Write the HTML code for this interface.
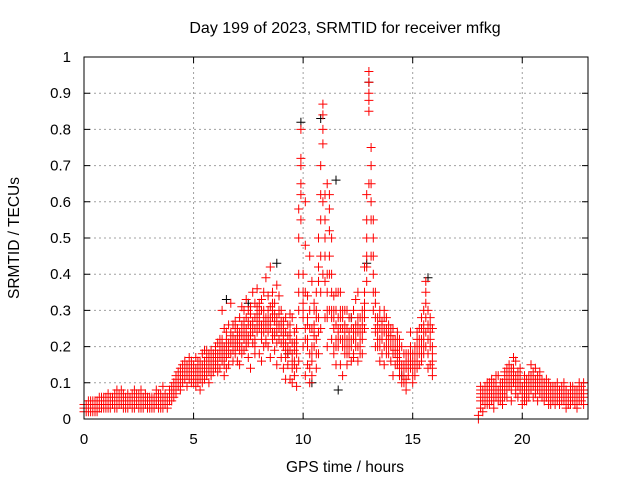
<!DOCTYPE html>
<html><head><meta charset="utf-8"><style>
html,body{margin:0;padding:0;background:#fff;}
svg{display:block;font-family:"Liberation Sans",sans-serif;}
</style></head><body>
<svg id="chart" width="640" height="480" xmlns="http://www.w3.org/2000/svg">
<rect width="640" height="480" fill="#fff"/>
<text x="345" y="33" font-size="16" text-anchor="middle">Day 199 of 2023, SRMTID for receiver mfkg</text>
<text x="345" y="472" font-size="15.5" text-anchor="middle">GPS time / hours</text>
<text transform="translate(19,238) rotate(-90)" font-size="15.5" text-anchor="middle">SRMTID / TECUs</text>
<g id="grid"></g>
<g id="ticks"></g>
<g id="black"></g>
<g id="red"></g>
<rect x="84" y="57" width="504" height="362" fill="none" stroke="#000" stroke-width="1"/>
</svg>
<script>
const xTicks=[0,5,10,15,20];
const yTicks=[0,0.1,0.2,0.3,0.4,0.5,0.6,0.7,0.8,0.9,1];
const yTickLabels=["0","0.1","0.2","0.3","0.4","0.5","0.6","0.7","0.8","0.9","1"];
const times=[0,0.1,0.2,0.3,0.4,0.5,0.6,0.7,0.8,0.9,1,1.1,1.2,1.3,1.4,1.5,1.6,1.7,1.8,1.9,2,2.1,2.2,2.3,2.4,2.5,2.6,2.7,2.8,2.9,3,3.1,3.2,3.3,3.4,3.5,3.6,3.7,3.8,3.9,4,4.1,4.2,4.3,4.4,4.5,4.6,4.7,4.8,4.9,5,5.1,5.2,5.3,5.4,5.5,5.6,5.7,5.8,5.9,6,6.1,6.2,6.3,6.4,6.5,6.6,6.7,6.8,6.9,7,7.1,7.2,7.3,7.4,7.5,7.6,7.7,7.8,7.9,8,8.1,8.2,8.3,8.4,8.5,8.6,8.7,8.8,8.9,9,9.1,9.2,9.3,9.4,9.5,9.6,9.7,9.8,9.9,10,10.1,10.2,10.3,10.4,10.5,10.6,10.7,10.8,10.9,11,11.1,11.2,11.3,11.4,11.5,11.6,11.7,11.8,11.9,12,12.1,12.2,12.3,12.4,12.5,12.6,12.7,12.8,12.9,13,13.1,13.2,13.3,13.4,13.5,13.6,13.7,13.8,13.9,14,14.1,14.2,14.3,14.4,14.5,14.6,14.7,14.8,14.9,15,15.1,15.2,15.3,15.4,15.5,15.6,15.7,15.8,15.9,18,18.1,18.2,18.3,18.4,18.5,18.6,18.7,18.8,18.9,19,19.1,19.2,19.3,19.4,19.5,19.6,19.7,19.8,19.9,20,20.1,20.2,20.3,20.4,20.5,20.6,20.7,20.8,20.9,21,21.1,21.2,21.3,21.4,21.5,21.6,21.7,21.8,21.9,22,22.1,22.2,22.3,22.4,22.5,22.6,22.7,22.8];
// values in hundredths of TECU
const redA=[3,2,3,4,3,2,3,4,5,4, 4,5,3,6,4,5,7,4,5,6, 5,4,6,5,7,4,5,6,4,5, 5,6,4,5,7,3,5,4,6,5, 6,8,10,12,11,13,14,12,15,13, 12,14,10,16,13,11,17,15,12,18, 16,18,14,22,17,20,15,23,19,18, 20,24,18,27,22,30,25,21,28,26, 27,22,30,25,34,28,24,32,26,29, 24,20,28,15,22,18,12,25,30,55, 40,25,15,30,12,20,35,18,55,80, 55,35,62,40,25,30,20,35,25,18, 22,18,25,30,20,16,28,24,35,55, 96,75,55,35,28,25,22,30,20,18, 25,18,22,15,12,20,10,14,18,16, 14,20,18,25,22,30,35,22,28,18, 0,6,8,4,10,7,5,9,6,8, 7,10,8,12,9,14,11,16,10,8, 6,9,7,12,8,10,14,9,7,11, 8,6,10,7,5,9,6,8,5,7, 6,4,7,5,8,6,5,9,7];
const redB=[2,4,2,3,4,3,5,3,3,6, 6,3,5,4,7,3,5,6,4,3, 3,6,4,8,5,6,3,5,7,4, 4,3,6,8,4,6,9,5,4,7, 5,7,8,9,13,10,12,15,11,16, 15,9,13,11,18,16,12,14,19,13, 20,13,19,16,25,14,21,18,26,22, 16,28,23,19,33,17,26,35,22,31, 18,33,24,39,20,42,30,19,37,22, 30,14,19,26,11,28,21,9,16,65, 28,60,22,10,38,26,14,42,25,87, 38,65,30,50,18,22,28,15,30,22, 15,28,20,17,33,26,18,30,42,62, 85,60,40,28,20,30,18,24,28,22, 20,25,15,18,22,10,15,8,12,20, 10,16,24,15,28,18,38,30,15,25, 1,3,5,9,6,4,11,5,8,12, 5,7,13,6,15,8,17,9,13,12, 4,12,5,8,15,6,9,12,10,6, 5,11,7,4,8,6,10,4,9,5, 8,6,4,9,5,3,7,6,10];
const redC=[4,3,5,2,3,5,2,6,4,3, 3,7,4,5,3,8,4,5,7,5, 7,5,3,4,6,5,8,3,5,6, 6,5,3,4,5,7,4,6,3,5, 9,6,12,10,8,15,11,9,17,10, 10,17,15,8,12,14,19,10,16,15, 14,21,17,30,12,24,19,32,16,25, 25,15,31,24,20,27,14,24,18,36, 32,16,28,21,26,17,35,23,15,34, 17,27,11,20,29,10,16,22,40,80, 20,12,34,45,18,32,28,50,70,40, 28,20,45,22,34,15,35,25,12,30, 30,24,16,25,22,35,20,18,25,45, 65,45,30,20,25,16,27,15,22,26, 16,12,20,24,16,14,18,11,15,24, 18,12,14,20,16,24,20,14,22,12, 0,9,2,6,4,10,7,3,12,5, 10,4,6,9,11,5,12,7,6,14, 9,5,10,6,11,13,7,5,13,8, 10,8,4,9,6,4,7,5,6,10, 3,5,9,6,4,8,10,5,4];
const redD=[3,4,2,3,5,4,3,5,6,5, 5,4,6,5,4,6,5,8,6,4, 4,5,7,3,4,7,6,4,6,3, 3,4,5,6,3,4,6,7,5,8, 7,9,7,11,14,12,16,13,12,14, 13,11,16,14,10,19,15,18,14,17, 18,15,22,19,20,17,26,21,23,20, 22,19,26,30,25,23,29,27,32,24, 25,30,20,28,24,31,22,27,21,26, 21,25,17,23,19,14,24,18,58,72, 35,48,20,25,16,30,22,38,62,76, 45,30,52,28,30,20,25,28,20,26, 25,20,22,18,26,24,22,26,30,38, 90,70,50,32,24,22,26,20,25,24, 22,20,18,22,14,15,12,18,16,14, 16,14,20,18,20,26,28,26,24,20, 0,7,5,7,8,5,9,6,9,7, 8,9,11,10,13,10,14,11,12,9, 7,8,9,10,9,12,11,8,11,9, 7,9,8,6,7,7,8,6,7,8, 5,7,6,7,6,5,8,7,8];
const redE=[2,3,4,2,2,4,4,3,4,5, 5,6,4,4,5,4,6,5,3,4, 6,4,5,6,5,3,4,5,5,4, 4,5,5,4,6,5,3,5,4,6, 8,10,9,13,10,11,13,14,13,12, 14,12,11,13,15,13,14,16,17,14, 17,16,20,18,15,22,18,24,21,27, 23,21,20,25,28,21,31,25,20,29, 30,26,35,22,28,26,32,29,24,30, 26,22,24,18,26,21,15,20,35,62, 32,35,28,18,25,23,30,24,45,84, 62,40,58,30,20,35,22,30,22,24, 20,22,28,22,24,28,25,22,28,50, 93,65,45,25,22,28,24,25,18,20, 23,22,19,20,18,12,14,16,14,18, 12,18,16,22,25,22,32,25,20,16, 0,5,7,8,6,8,6,10,7,6, 9,8,10,14,10,12,13,12,11,10, 8,10,8,9,12,9,10,11,9,8, 9,7,6,8,6,8,5,7,6,6, 7,6,5,8,7,7,6,8,6];
const redF=[3,3,3,5,3,3,4,4,3,4, 4,4,5,5,5,5,6,6,5,5, 5,5,5,6,6,5,5,6,5,5, 5,4,5,5,5,5,5,5,5,6, 7,7,11,10,12,14,12,14,14,15, 14,13,12,14,14,15,16,13,15,16, 15,17,18,21,19,19,20,22,20,21, 21,22,24,22,24,26,23,26,25,27, 28,24,26,27,30,25,28,24,28,25, 27,23,21,20,24,16,19,14,50,70, 30,22,26,14,20,24,18,28,35,60, 50,28,40,35,28,26,24,22,28,20, 18,24,20,24,22,20,24,28,32,42, 88,55,35,24,26,20,22,28,24,22, 20,18,20,17,20,14,12,10,14,18, 15,15,22,20,18,20,24,18,26,14, 0,8,6,5,7,9,8,7,10,6, 8,6,9,8,12,11,10,8,9,11, 8,7,11,7,10,11,8,10,8,10, 8,6,7,7,9,5,6,7,8,6, 6,5,8,6,6,6,7,5,6];
const blackT=[9.9,10.8,11.5,13.0,8.8,7.5,12.9,15.7,10.4,11.6,6.5,9.3,12.2,14.5];
const blackV=[0.82,0.83,0.66,0.93,0.43,0.32,0.43,0.39,0.10,0.08,0.33,0.18,0.28,0.12];

const X0=84,X1=588,Y0=419,Y1=57,XMAX=23;
const xs=t=>X0+(X1-X0)*t/XMAX;
const ys=v=>Y0-(Y0-Y1)*v;
const NS="http://www.w3.org/2000/svg";
const grid=document.getElementById('grid'),ticks=document.getElementById('ticks');
function mk(tag,attrs,parent){const e=document.createElementNS(NS,tag);for(const k in attrs)e.setAttribute(k,attrs[k]);parent.appendChild(e);return e;}
yTicks.forEach((v,i)=>{
  const y=ys(v);
  if(i>0&&i<yTicks.length-1){const g=mk('line',{x1:X0,x2:X1,y1:y,y2:y,stroke:'#a0a0a0','stroke-dasharray':'2,3'},grid);
  
  }
  const tk=mk('path',{d:`M${X0},${y}h6M${X1},${y}h-6`,stroke:'#000'},ticks);
  
  
  const tx=mk('text',{x:X0-13,y:y+5,'font-size':'15','text-anchor':'end'},ticks);
  tx.textContent=yTickLabels[i];
  
  
});
xTicks.forEach(t=>{
  const x=xs(t);
  if(t>0){const g=mk('line',{x1:x,x2:x,y1:Y0,y2:Y1,stroke:'#a0a0a0','stroke-dasharray':'2,3'},grid);
  
  }
  const tk=mk('path',{d:`M${x},${Y0}v-6M${x},${Y1}v6`,stroke:'#000'},ticks);
  
  
  const tx=mk('text',{x:x,y:Y0+25,'font-size':'15','text-anchor':'middle'},ticks);
  tx.textContent=String(t);
  
  
});
function plus(x,y){return `M${(x-4.5).toFixed(1)},${y.toFixed(1)}h9M${x.toFixed(1)},${(y-4.5).toFixed(1)}v9`;}
let bd='';blackT.forEach((t,i)=>{bd+=plus(xs(t),ys(blackV[i]));});
const bp=mk('path',{d:bd,stroke:'#000','stroke-width':1,fill:'none'},document.getElementById('black'));


let rd='';
[redA,redB,redC,redD,redE,redF].forEach(arr=>{times.forEach((t,i)=>{rd+=plus(xs(t),ys(arr[i]/100));});});
const rp=mk('path',{d:rd,stroke:'#ff0000','stroke-width':1,fill:'none'},document.getElementById('red'));


</script>
</body></html>
